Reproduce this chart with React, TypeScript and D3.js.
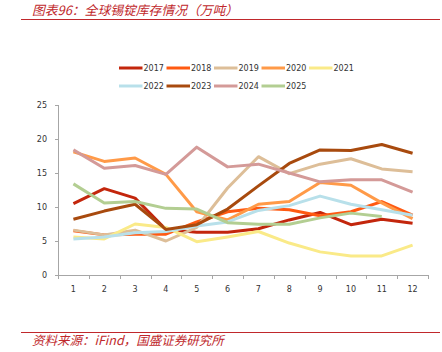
import React from "react";
import * as d3 from "d3";

const months = ["1", "2", "3", "4", "5", "6", "7", "8", "9", "10", "11", "12"];
const yTicks = [0, 5, 10, 15, 20, 25];

const s2017 = [10.5, 12.7, 11.3, 6.7, 6.3, 6.3, 6.8, 8.1, 9.2, 7.4, 8.2, 7.6];
const s2018 = [6.5, 5.9, 6.0, 6.0, 7.8, 9.3, 9.8, 9.6, 8.7, 9.3, 10.8, 8.8];
const s2019 = [6.6, 5.9, 6.6, 5.0, 7.0, 12.8, 17.4, 14.9, 16.3, 17.1, 15.6, 15.2];
const s2020 = [18.1, 16.7, 17.2, 14.8, 9.3, 8.1, 10.4, 10.8, 13.6, 13.2, 10.6, 8.3];
const s2021 = [5.6, 5.3, 7.5, 7.0, 4.9, 5.6, 6.4, 4.7, 3.4, 2.8, 2.8, 4.4];
const s2022 = [5.3, 5.6, 6.2, 6.4, 7.2, 7.8, 9.5, 10.2, 11.6, 10.4, 9.6, 8.8];
const s2023 = [8.2, 9.4, 10.4, 6.7, 7.4, 9.7, 13.1, 16.4, 18.4, 18.3, 19.2, 17.9];
const s2024 = [18.4, 15.7, 16.1, 14.8, 18.8, 15.9, 16.3, 15.0, 13.7, 14.0, 14.0, 12.2];
const s2025 = [13.4, 10.6, 10.8, 9.8, 9.7, 7.7, 7.45, 7.45, 8.4, 9.1, 8.6];

const seriesNames = ["2017", "2018", "2019", "2020", "2021", "2022", "2023", "2024", "2025"];
const seriesValues = [s2017, s2018, s2019, s2020, s2021, s2022, s2023, s2024, s2025];
const seriesColors = [
  "#C3260C",
  "#FF5A12",
  "#DDBE98",
  "#FF9A48",
  "#FAEA88",
  "#B8E0EA",
  "#A84A0E",
  "#D49A98",
  "#B3CE92",
];

export default function App() {
  const W = 442;
  const H = 352;
  const left = 58;
  const right = 428;
  const top = 105;
  const bottom = 275;

  const xBand = d3.scaleBand<string>().domain(months).range([left, right]).padding(0);
  const xPt = (i: number) => (xBand(months[i]) as number) + xBand.bandwidth() / 2;
  const y = d3.scaleLinear().domain([0, 25]).range([bottom, top]);

  const line = d3
    .line<number>()
    .x((_, i) => xPt(i))
    .y((d) => y(d));

  const font = "'DejaVu Sans', Verdana, sans-serif";
  const cjk = "'Noto Sans CJK SC', sans-serif";
  const axisColor = "#A6A6A6";
  const textColor = "#333333";
  const red = "#C0282C";

  const legendX0 = 119;
  const legendDx = 47.5;
  const legendRows = [68, 86];

  const edges = months.map((m) => xBand(m) as number).concat([right]);

  return (
    <svg
      width={W}
      height={H}
      style={{ position: "absolute", left: 0, top: 0, background: "#fff" }}
    >
      {/* title */}
      <text
        x={32}
        y={14.5}
        fontFamily={cjk}
        fontSize={12.8}
        fontStyle="italic"
        fill={red}
      >
        图表96：全球锡锭库存情况（万吨）
      </text>
      <line x1={21} x2={440} y1={19.5} y2={19.5} stroke={red} strokeWidth={1} />

      {/* legend */}
      {seriesNames.map((name, i) => {
        const row = i < 5 ? 0 : 1;
        const col = i < 5 ? i : i - 5;
        const lx = legendX0 + col * legendDx;
        const ly = legendRows[row];
        return (
          <g key={name}>
            <line
              x1={lx}
              x2={lx + 23.5}
              y1={ly}
              y2={ly}
              stroke={seriesColors[i]}
              strokeWidth={3}
            />
            <text
              x={lx + 24.5}
              y={ly + 3}
              fontFamily={font}
              fontSize={8}
              fill={textColor}
            >
              {name}
            </text>
          </g>
        );
      })}

      {/* y axis */}
      <line x1={left + 0.5} x2={left + 0.5} y1={top} y2={bottom} stroke={axisColor} strokeWidth={1} />
      {yTicks.map((t) => (
        <g key={t}>
          <line
            x1={left - 3}
            x2={left}
            y1={Math.round(y(t)) + 0.5}
            y2={Math.round(y(t)) + 0.5}
            stroke={axisColor}
          />
          <text
            x={47}
            y={y(t) + 3}
            textAnchor="end"
            fontFamily={font}
            fontSize={8}
            fill={textColor}
          >
            {t}
          </text>
        </g>
      ))}

      {/* x axis */}
      <line x1={left} x2={right} y1={bottom + 0.5} y2={bottom + 0.5} stroke={axisColor} strokeWidth={1} />
      {edges.map((e, i) => (
        <line
          key={i}
          x1={Math.round(e) + 0.5}
          x2={Math.round(e) + 0.5}
          y1={bottom}
          y2={bottom + 4}
          stroke={axisColor}
        />
      ))}
      {months.map((m, i) => (
        <text
          key={m}
          x={xPt(i)}
          y={292}
          textAnchor="middle"
          fontFamily={font}
          fontSize={8}
          fill={textColor}
        >
          {m}
        </text>
      ))}

      {/* series */}
      {seriesValues.map((vals, i) => (
        <path
          key={seriesNames[i]}
          d={line(vals) as string}
          fill="none"
          stroke={seriesColors[i]}
          strokeWidth={3}
          strokeLinejoin="round"
        />
      ))}

      {/* footer */}
      <line x1={21} x2={440} y1={332.5} y2={332.5} stroke={red} strokeWidth={1} />
      <text
        x={32}
        y={345}
        fontFamily={cjk}
        fontSize={12.5}
        fontStyle="italic"
        fill={red}
      >
        资料来源：iFind，国盛证券研究所
      </text>
    </svg>
  );
}
